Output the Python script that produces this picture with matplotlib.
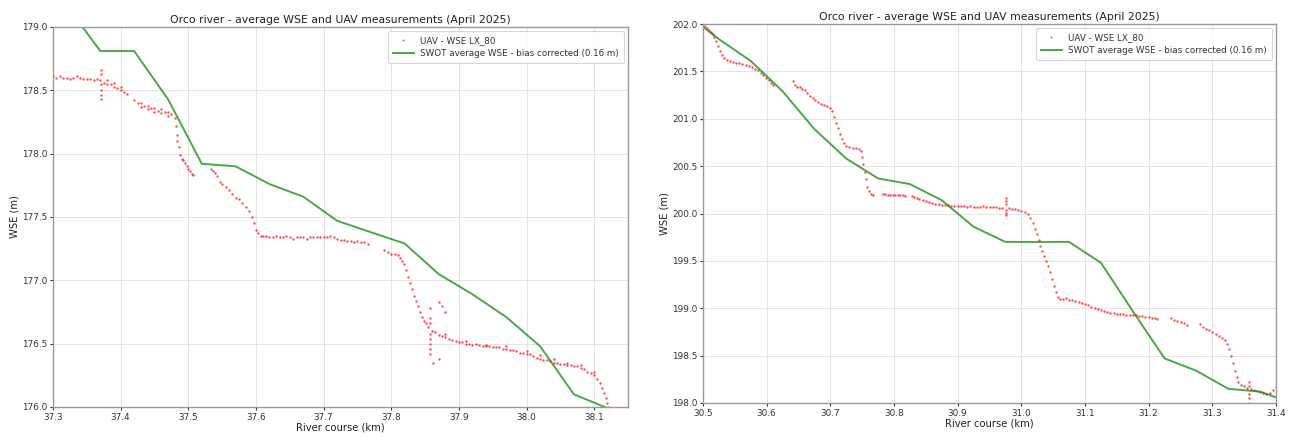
import matplotlib
matplotlib.use("Agg")
import matplotlib.pyplot as plt
import numpy as np

# ---------------- Left panel data (km 37.3 - 38.15) ----------------
swot_left_x = [37.32, 37.37, 37.42, 37.47, 37.52, 37.57, 37.62, 37.67, 37.72, 37.77,
               37.82, 37.87, 37.92, 37.97, 38.02, 38.07, 38.12, 38.17]
swot_left_y = [179.17, 178.81, 178.81, 178.43, 177.92, 177.90, 177.76, 177.66, 177.47, 177.38,
               177.29, 177.05, 176.89, 176.71, 176.48, 176.10, 175.99, 175.85]

uav_left_x = [
    37.300, 37.305, 37.310, 37.315, 37.320, 37.325, 37.330, 37.335, 37.340, 37.345,
    37.350, 37.355, 37.360, 37.365, 37.370,
    37.371, 37.371, 37.371, 37.371, 37.371, 37.371,
    37.375, 37.380, 37.385, 37.390, 37.395, 37.400, 37.405, 37.410, 37.380, 37.390, 37.400,
    37.420, 37.425, 37.430, 37.435, 37.440, 37.445, 37.450, 37.455, 37.460, 37.465, 37.470,
    37.475, 37.480, 37.430, 37.440, 37.450, 37.460, 37.470,
    37.482, 37.483, 37.484, 37.486, 37.488, 37.490, 37.492, 37.495, 37.498, 37.500, 37.502,
    37.505, 37.507,
    37.533, 37.537, 37.540, 37.543, 37.547, 37.550, 37.555, 37.560, 37.565, 37.570, 37.575,
    37.580, 37.585, 37.590, 37.594, 37.597, 37.600, 37.603, 37.607, 37.610, 37.615, 37.620,
    37.625, 37.630, 37.635, 37.640, 37.645, 37.650, 37.655, 37.660, 37.665, 37.670, 37.675,
    37.680, 37.685, 37.690, 37.695, 37.700, 37.705, 37.710, 37.715, 37.720, 37.725, 37.730,
    37.735, 37.740, 37.745, 37.750, 37.755, 37.760, 37.765,
    37.790, 37.795, 37.800, 37.805, 37.810, 37.813, 37.816, 37.819, 37.822, 37.825, 37.828,
    37.831, 37.834, 37.837, 37.840, 37.843, 37.846, 37.849, 37.852, 37.855,
    37.857, 37.857, 37.857, 37.857, 37.857, 37.857, 37.857,
    37.860, 37.865, 37.870, 37.875, 37.880, 37.885, 37.890, 37.895, 37.900, 37.905, 37.910,
    37.915, 37.920, 37.925, 37.930, 37.935, 37.940, 37.945, 37.950, 37.955, 37.960, 37.965,
    37.970, 37.975, 37.980, 37.985, 37.990, 37.995, 38.000, 38.005, 38.010, 38.015, 38.020,
    38.025, 38.030, 38.035, 38.040, 38.045, 38.050, 38.055, 38.060, 38.065, 38.070, 38.075,
    38.080, 38.085, 38.090, 38.095, 38.100, 38.104, 38.108, 38.111, 38.114, 38.117, 38.119,
    38.121,
    37.880, 37.910, 37.940, 37.970, 38.000, 38.020, 38.040, 38.060, 38.080, 38.100,
    37.858, 37.870, 37.875, 37.862, 37.870, 37.880,
]
uav_left_y = [
    178.61, 178.60, 178.61, 178.60, 178.60, 178.59, 178.60, 178.61, 178.60, 178.59,
    178.59, 178.59, 178.58, 178.59, 178.58,
    178.66, 178.63, 178.55, 178.50, 178.46, 178.43,
    178.56, 178.55, 178.55, 178.53, 178.52, 178.50, 178.49, 178.47, 178.58, 178.56, 178.53,
    178.42, 178.40, 178.40, 178.38, 178.38, 178.36, 178.36, 178.34, 178.35, 178.33, 178.33,
    178.31, 178.28, 178.37, 178.35, 178.33, 178.32, 178.30,
    178.22, 178.15, 178.10, 178.05, 177.99, 177.96, 177.95, 177.93, 177.90, 177.88, 177.86,
    177.84, 177.83,
    177.88, 177.86, 177.85, 177.82, 177.78, 177.76, 177.74, 177.71, 177.68, 177.65, 177.64,
    177.61, 177.58, 177.55, 177.50, 177.45, 177.40, 177.37, 177.35, 177.35, 177.35, 177.34,
    177.34, 177.35, 177.34, 177.34, 177.35, 177.34, 177.33, 177.34, 177.34, 177.34, 177.33,
    177.34, 177.34, 177.34, 177.34, 177.34, 177.34, 177.35, 177.34, 177.33, 177.32, 177.32,
    177.31, 177.31, 177.30, 177.31, 177.30, 177.30, 177.29,
    177.24, 177.22, 177.21, 177.21, 177.20, 177.18, 177.15, 177.13, 177.08, 177.03, 176.98,
    176.93, 176.88, 176.84, 176.80, 176.75, 176.71, 176.68, 176.66, 176.63,
    176.70, 176.66, 176.58, 176.54, 176.50, 176.46, 176.42,
    176.60, 176.59, 176.57, 176.56, 176.55, 176.54, 176.53, 176.52, 176.51, 176.51, 176.50,
    176.50, 176.49, 176.50, 176.49, 176.48, 176.48, 176.48, 176.47, 176.47, 176.47, 176.46,
    176.46, 176.45, 176.45, 176.44, 176.43, 176.43, 176.42, 176.42, 176.40, 176.39, 176.38,
    176.37, 176.37, 176.36, 176.35, 176.35, 176.34, 176.34, 176.33, 176.33, 176.32, 176.32,
    176.31, 176.30, 176.28, 176.27, 176.25, 176.22, 176.19, 176.15, 176.11, 176.07, 176.03,
    176.00,
    176.58, 176.52, 176.49, 176.48, 176.44, 176.41, 176.38, 176.35, 176.33, 176.28,
    176.78, 176.83, 176.80, 176.35, 176.38, 176.75,
]

# ---------------- Right panel data (km 30.5 - 31.4) ----------------
swot_right_x = [30.475, 30.525, 30.575, 30.625, 30.675, 30.725, 30.775, 30.825, 30.875,
                30.925, 30.975, 31.025, 31.075, 31.125, 31.175, 31.225, 31.275, 31.325,
                31.375, 31.425]
swot_right_y = [202.10, 201.84, 201.61, 201.29, 200.89, 200.58, 200.37, 200.31, 200.14,
                199.86, 199.70, 199.70, 199.70, 199.48, 198.97, 198.47, 198.34, 198.15,
                198.12, 198.00]

uav_right_x = [
    30.500, 30.503, 30.506, 30.509, 30.512, 30.515, 30.518, 30.521, 30.524, 30.527, 30.530,
    30.533, 30.537, 30.542, 30.547, 30.552, 30.557, 30.562, 30.567, 30.572, 30.577, 30.582,
    30.587, 30.591, 30.595, 30.599, 30.603, 30.607, 30.610,
    30.642, 30.644, 30.648, 30.652, 30.656, 30.660, 30.664, 30.668, 30.672, 30.676, 30.680,
    30.685, 30.690, 30.695, 30.700, 30.703, 30.706, 30.709, 30.712, 30.715, 30.718, 30.721,
    30.725, 30.730, 30.735, 30.740, 30.745, 30.748, 30.750, 30.752, 30.754, 30.756, 30.758,
    30.761, 30.764, 30.767,
    30.782, 30.786, 30.790, 30.794, 30.798, 30.802, 30.806, 30.810, 30.814, 30.818,
    30.828, 30.832, 30.836, 30.840, 30.845, 30.850, 30.855, 30.860, 30.865, 30.870, 30.875,
    30.880, 30.885, 30.890, 30.895, 30.900, 30.905, 30.910, 30.915, 30.920, 30.925, 30.930,
    30.935, 30.940, 30.945, 30.950, 30.955, 30.960, 30.965, 30.970,
    30.976, 30.976, 30.976, 30.976, 30.976, 30.976,
    30.980, 30.985, 30.990, 30.995, 31.000, 31.005, 31.010, 31.014, 31.018, 31.021, 31.024,
    31.027, 31.030, 31.033, 31.036, 31.039, 31.042, 31.045, 31.048, 31.051, 31.054, 31.057,
    31.060, 31.065, 31.070, 31.075, 31.080, 31.085, 31.090, 31.095, 31.100, 31.105, 31.110,
    31.115, 31.120, 31.125, 31.130, 31.135, 31.140, 31.145, 31.150, 31.155, 31.160, 31.165,
    31.170, 31.175, 31.180, 31.185, 31.190, 31.195, 31.200, 31.205, 31.210, 31.213,
    31.235, 31.240, 31.245, 31.250, 31.255, 31.260,
    31.280, 31.285, 31.290, 31.295, 31.300, 31.305, 31.310, 31.315, 31.320, 31.323, 31.326,
    31.329, 31.332, 31.335, 31.338, 31.341, 31.345, 31.350, 31.355,
    31.358, 31.358, 31.358, 31.358, 31.358, 31.358,
    31.360, 31.365, 31.370, 31.375, 31.380, 31.385, 31.390, 31.395, 31.400,
]
uav_right_y = [
    202.00, 201.98, 201.96, 201.94, 201.92, 201.89, 201.86, 201.82, 201.77, 201.71, 201.67,
    201.64, 201.62, 201.61, 201.60, 201.59, 201.59, 201.58, 201.57, 201.56, 201.55, 201.53,
    201.51, 201.48, 201.46, 201.43, 201.41, 201.38, 201.36,
    201.40, 201.36, 201.34, 201.33, 201.31, 201.30, 201.27, 201.24, 201.22, 201.20, 201.18,
    201.16, 201.15, 201.13, 201.11, 201.08, 201.02, 200.96, 200.90, 200.84, 200.79, 200.74,
    200.71, 200.70, 200.69, 200.69, 200.68, 200.66, 200.60, 200.52, 200.44, 200.36, 200.28,
    200.24, 200.21, 200.19,
    200.21, 200.21, 200.20, 200.20, 200.20, 200.20, 200.19, 200.20, 200.19, 200.18,
    200.18, 200.17, 200.16, 200.15, 200.14, 200.13, 200.12, 200.11, 200.10, 200.10, 200.09,
    200.09, 200.09, 200.08, 200.08, 200.08, 200.08, 200.08, 200.07, 200.08, 200.07, 200.07,
    200.07, 200.08, 200.07, 200.07, 200.07, 200.07, 200.06, 200.06,
    200.16, 200.13, 200.10, 200.04, 200.01, 199.98,
    200.06, 200.05, 200.05, 200.04, 200.03, 200.02, 199.99, 199.95, 199.90, 199.84, 199.78,
    199.72, 199.66, 199.60, 199.55, 199.50, 199.45, 199.38, 199.31, 199.24, 199.17, 199.12,
    199.10, 199.10, 199.11, 199.09, 199.09, 199.08, 199.07, 199.06, 199.04, 199.03, 199.01,
    199.00, 198.99, 198.98, 198.97, 198.96, 198.95, 198.95, 198.94, 198.94, 198.94, 198.93,
    198.93, 198.93, 198.93, 198.92, 198.92, 198.91, 198.91, 198.90, 198.90, 198.89,
    198.90, 198.88, 198.87, 198.86, 198.84, 198.82,
    198.83, 198.80, 198.78, 198.77, 198.75, 198.73, 198.71, 198.69, 198.66, 198.62, 198.57,
    198.50, 198.42, 198.34, 198.27, 198.22, 198.19, 198.18, 198.16,
    198.22, 198.18, 198.10, 198.05, 198.00, 197.98,
    198.15, 198.14, 198.13, 198.12, 198.11, 198.10, 198.11, 198.14, 198.17,
]

title = "Orco river - average WSE and UAV measurements (April 2025)"
uav_label = "UAV - WSE LX_80"
swot_label = "SWOT average WSE - bias corrected (0.16 m)"
left_xticks = [37.3, 37.4, 37.5, 37.6, 37.7, 37.8, 37.9, 38.0, 38.1]
left_yticks = [176.0, 176.5, 177.0, 177.5, 178.0, 178.5, 179.0]
right_xticks = [30.5, 30.6, 30.7, 30.8, 30.9, 31.0, 31.1, 31.2, 31.3, 31.4]
right_yticks = [198.0, 198.5, 199.0, 199.5, 200.0, 200.5, 201.0, 201.5, 202.0]

plt.rcParams['font.family'] = ['DejaVu Sans']

fig = plt.figure(figsize=(12.93, 4.37), dpi=100)
W, H = 1293, 437
axL = fig.add_axes([53 / W, 1 - 407 / H, (628 - 53) / W, (407 - 27) / H])
axR = fig.add_axes([703 / W, 1 - 403 / H, (1276 - 703) / W, (403 - 24) / H])

def style(ax, ux, uy, sx, sy, xlim, ylim, xt, yt):
    ax.plot(ux, uy, linestyle='none', marker='.', markersize=3.4, color='red',
            alpha=0.7, markeredgewidth=0, label=uav_label)
    ax.plot(sx, sy, color='green', alpha=0.7, lw=1.4, label=swot_label)
    ax.set_xlim(*xlim)
    ax.set_ylim(*ylim)
    ax.set_xticks(xt)
    ax.set_yticks(yt)
    ax.set_xticklabels([f"{v:.1f}" for v in xt])
    ax.set_yticklabels([f"{v:.1f}" for v in yt])
    ax.grid(True, color='#dddddd', lw=0.7, alpha=0.8)
    ax.set_axisbelow(True)
    for s in ax.spines.values():
        s.set_color('#999999')
        s.set_linewidth(1.0)
    ax.tick_params(labelsize=6.4, colors='#333333', length=2.5, width=0.8, pad=1.5)
    ax.set_title(title, fontsize=7.8, color='#222222', pad=3)
    ax.set_xlabel("River course (km)", fontsize=7.2, color='#222222', labelpad=1)
    ax.set_ylabel("WSE (m)", fontsize=7.2, color='#222222', labelpad=2)
    leg = ax.legend(loc='upper right', fontsize=6.3, frameon=True, fancybox=True,
                    borderpad=0.5, handlelength=2.4, markerscale=0.8)
    leg.get_frame().set_edgecolor('#cccccc')
    leg.get_frame().set_linewidth(0.8)
    for t in leg.get_texts():
        t.set_color('#333333')

style(axL, uav_left_x, uav_left_y, swot_left_x, swot_left_y,
      (37.3, 38.15), (176.0, 179.0), left_xticks, left_yticks)
style(axR, uav_right_x, uav_right_y, swot_right_x, swot_right_y,
      (30.5, 31.4), (198.0, 202.0), right_xticks, right_yticks)

fig.savefig("out.png", dpi=100)
